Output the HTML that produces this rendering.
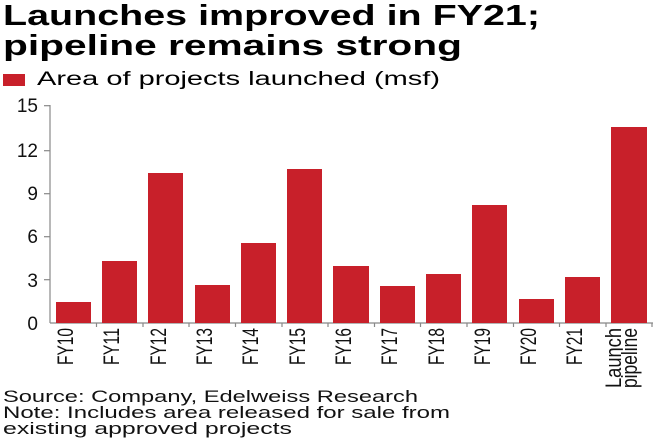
<!DOCTYPE html>
<html><head><meta charset="utf-8"><style>
html,body{margin:0;padding:0;background:#fff;}
svg{display:block;font-family:"Liberation Sans",sans-serif;}
</style></head><body>
<svg width="660" height="440" viewBox="0 0 660 440">
<text x="3" y="25" font-size="29" font-weight="bold" textLength="537" lengthAdjust="spacingAndGlyphs">Launches improved in FY21;</text>
<text x="3" y="55" font-size="29" font-weight="bold" textLength="459" lengthAdjust="spacingAndGlyphs">pipeline remains strong</text>
<rect x="3" y="74" width="22" height="12" fill="#c8202a"/>
<text x="37" y="85" font-size="19" textLength="403" lengthAdjust="spacingAndGlyphs">Area of projects  launched (msf)</text>
<g font-size="19" text-anchor="end" fill="#111">
<text x="38" y="112">15</text><text x="38" y="157">12</text><text x="38" y="200">9</text>
<text x="38" y="243">6</text><text x="38" y="287">3</text><text x="38" y="330">0</text>
</g>
<g stroke="#888" stroke-width="1.2">
<line x1="50" y1="105" x2="50" y2="323"/>
<line x1="50" y1="323" x2="653" y2="323"/>
<line x1="44" y1="105.7" x2="50" y2="105.7"/><line x1="44" y1="150.7" x2="50" y2="150.7"/>
<line x1="44" y1="193.7" x2="50" y2="193.7"/><line x1="44" y1="236.7" x2="50" y2="236.7"/>
<line x1="44" y1="279.7" x2="50" y2="279.7"/>
</g>
<g fill="#c8202a">
<rect x="56" y="302" width="35" height="21"/>
<rect x="102" y="261" width="35" height="62"/>
<rect x="148" y="173" width="35" height="150"/>
<rect x="195" y="285" width="35" height="38"/>
<rect x="241" y="243" width="35" height="80"/>
<rect x="287" y="169" width="35" height="154"/>
<rect x="333" y="266" width="36" height="57"/>
<rect x="380" y="286" width="35" height="37"/>
<rect x="426" y="274" width="35" height="49"/>
<rect x="472" y="205" width="35" height="118"/>
<rect x="519" y="299" width="35" height="24"/>
<rect x="565" y="277" width="35" height="46"/>
<rect x="611" y="127" width="36" height="196"/>
</g>
<g stroke="#888" stroke-width="1.2">
<line x1="96.5" y1="323" x2="96.5" y2="327"/><line x1="143" y1="323" x2="143" y2="327"/>
<line x1="189" y1="323" x2="189" y2="327"/><line x1="235.5" y1="323" x2="235.5" y2="327"/>
<line x1="282" y1="323" x2="282" y2="327"/><line x1="328" y1="323" x2="328" y2="327"/>
<line x1="374.5" y1="323" x2="374.5" y2="327"/><line x1="420.5" y1="323" x2="420.5" y2="327"/>
<line x1="467" y1="323" x2="467" y2="327"/><line x1="513.5" y1="323" x2="513.5" y2="327"/>
<line x1="559.5" y1="323" x2="559.5" y2="327"/><line x1="606" y1="323" x2="606" y2="327"/>
<line x1="652" y1="323" x2="652" y2="327"/>
</g>
<g font-size="22" text-anchor="end" fill="#111">
<text transform="translate(73,328) rotate(-90)" textLength="37" lengthAdjust="spacingAndGlyphs">FY10</text>
<text transform="translate(119,328) rotate(-90)" textLength="37" lengthAdjust="spacingAndGlyphs">FY11</text>
<text transform="translate(166,328) rotate(-90)" textLength="37" lengthAdjust="spacingAndGlyphs">FY12</text>
<text transform="translate(212,328) rotate(-90)" textLength="37" lengthAdjust="spacingAndGlyphs">FY13</text>
<text transform="translate(258,328) rotate(-90)" textLength="37" lengthAdjust="spacingAndGlyphs">FY14</text>
<text transform="translate(305,328) rotate(-90)" textLength="37" lengthAdjust="spacingAndGlyphs">FY15</text>
<text transform="translate(351,328) rotate(-90)" textLength="37" lengthAdjust="spacingAndGlyphs">FY16</text>
<text transform="translate(397,328) rotate(-90)" textLength="37" lengthAdjust="spacingAndGlyphs">FY17</text>
<text transform="translate(444,328) rotate(-90)" textLength="37" lengthAdjust="spacingAndGlyphs">FY18</text>
<text transform="translate(490,328) rotate(-90)" textLength="37" lengthAdjust="spacingAndGlyphs">FY19</text>
<text transform="translate(536,328) rotate(-90)" textLength="37" lengthAdjust="spacingAndGlyphs">FY20</text>
<text transform="translate(582,328) rotate(-90)" textLength="37" lengthAdjust="spacingAndGlyphs">FY21</text>
<text transform="translate(621,328) rotate(-90)" textLength="60" lengthAdjust="spacingAndGlyphs">Launch</text>
<text transform="translate(637,328) rotate(-90)" textLength="60" lengthAdjust="spacingAndGlyphs">pipeline</text>
</g>
<g font-size="17" fill="#111">
<text x="3" y="402" textLength="415" lengthAdjust="spacingAndGlyphs">Source: Company, Edelweiss Research</text>
<text x="3" y="418" textLength="447" lengthAdjust="spacingAndGlyphs">Note: Includes area released for sale from</text>
<text x="3" y="434" textLength="289" lengthAdjust="spacingAndGlyphs">existing approved projects</text>
</g>
</svg>
</body></html>
